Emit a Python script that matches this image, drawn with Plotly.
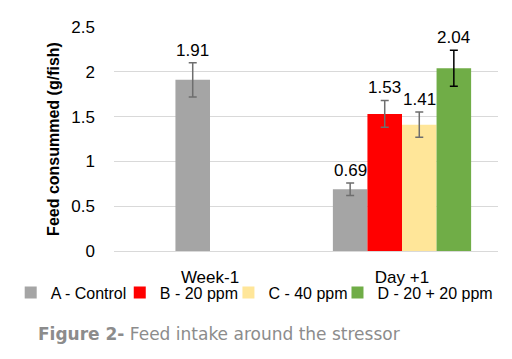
import plotly.graph_objects as go

categories = ["Week-1", "Day +1"]
series_names = ["A - Control", "B - 20 ppm", "C - 40 ppm", "D - 20 + 20 ppm"]
# values per series, per category (None = no bar)
values_A = [1.91, 0.69]
values_B = [None, 1.53]
values_C = [None, 1.41]
values_D = [None, 2.04]
errors_A = [0.19, 0.07]
errors_B = [None, 0.15]
errors_C = [None, 0.14]
errors_D = [None, 0.20]
y_ticks = [0, 0.5, 1, 1.5, 2, 2.5]
y_tick_labels = ["0", "0.5", "1", "1.5", "2", "2.5"]

colors = ["#A5A5A5", "#FF0000", "#FFE699", "#70AD47"]
err_colors = ["#6E6E6E", "#6E6E6E", "#6E6E6E", "#000000"]
slot_offsets = [-0.27, -0.09, 0.09, 0.27]
week_offset = -0.09  # the single Week-1 bar sits in slot 2
bar_w = 0.18
legend_ids = ["legend", "legend2", "legend3", "legend4"]
legend_x = [-0.269, 0.015, 0.298, 0.582]

all_vals = [values_A, values_B, values_C, values_D]
all_errs = [errors_A, errors_B, errors_C, errors_D]

fig = go.Figure()
annotations = []
for s, (name, vals, errs) in enumerate(zip(series_names, all_vals, all_errs)):
    xs, ys, es = [], [], []
    for ci, (v, e) in enumerate(zip(vals, errs)):
        if v is None:
            continue
        off = week_offset if ci == 0 else slot_offsets[s]
        xs.append(ci + off)
        ys.append(v)
        es.append(e)
        annotations.append(dict(x=ci + off, y=v + e, xref="x", yref="y",
                                text=f"{v:.2f}", showarrow=False, yanchor="bottom",
                                yshift=1, font=dict(size=17, color="#000000",
                                                    family="Liberation Sans")))
    fig.add_trace(go.Bar(
        x=xs, y=ys, name=name, width=bar_w, legend=legend_ids[s],
        marker=dict(color=colors[s], line=dict(width=0)),
        error_y=dict(type="data", array=es, visible=True, color=err_colors[s],
                     thickness=1.5, width=4),
    ))

annotations.append(dict(x=-0.203, y=-0.372, xref="paper", yref="paper", xanchor="left",
                        yanchor="middle", showarrow=False,
                        text="<b>Figure 2-</b> Feed intake around the stressor",
                        font=dict(size=17, color="#8C8C8C", family="DejaVu Sans")))

legend_common = dict(orientation="h", xanchor="left", y=-0.11, yanchor="top",
                     font=dict(size=16, family="Liberation Sans"), itemwidth=30,
                     traceorder="normal", tracegroupgap=0, itemclick=False,
                     bgcolor="rgba(0,0,0,0)")

legend_layout = {lid: dict(x=lx, **legend_common) for lid, lx in zip(legend_ids, legend_x)}

fig.update_layout(
    width=504, height=351,
    margin=dict(l=106, r=14, t=19, b=108, autoexpand=False),
    paper_bgcolor="white", plot_bgcolor="white",
    barmode="overlay",
    font=dict(family="Liberation Sans", size=16, color="#000000"),
    showlegend=True,
    annotations=annotations,
    xaxis=dict(range=[-0.5, 1.5], tickvals=[0, 1], ticktext=categories,
               showgrid=False, zeroline=False, showline=False, ticks="",
               tickfont=dict(size=17), ticklabelstandoff=14, automargin=False),
    yaxis=dict(range=[0, 2.5], tickvals=y_ticks, ticktext=y_tick_labels,
               showgrid=True, gridcolor="#D9D9D9", gridwidth=1,
               zeroline=True, zerolinecolor="#D9D9D9", zerolinewidth=1,
               showline=False, ticks="", tickfont=dict(size=17), ticklabelstandoff=18,
               automargin=False,
               title=dict(text="<b>Feed consummed (g/fish)</b>", font=dict(size=16),
                          standoff=7)),
    **legend_layout,
)

fig.write_html("out.html")
